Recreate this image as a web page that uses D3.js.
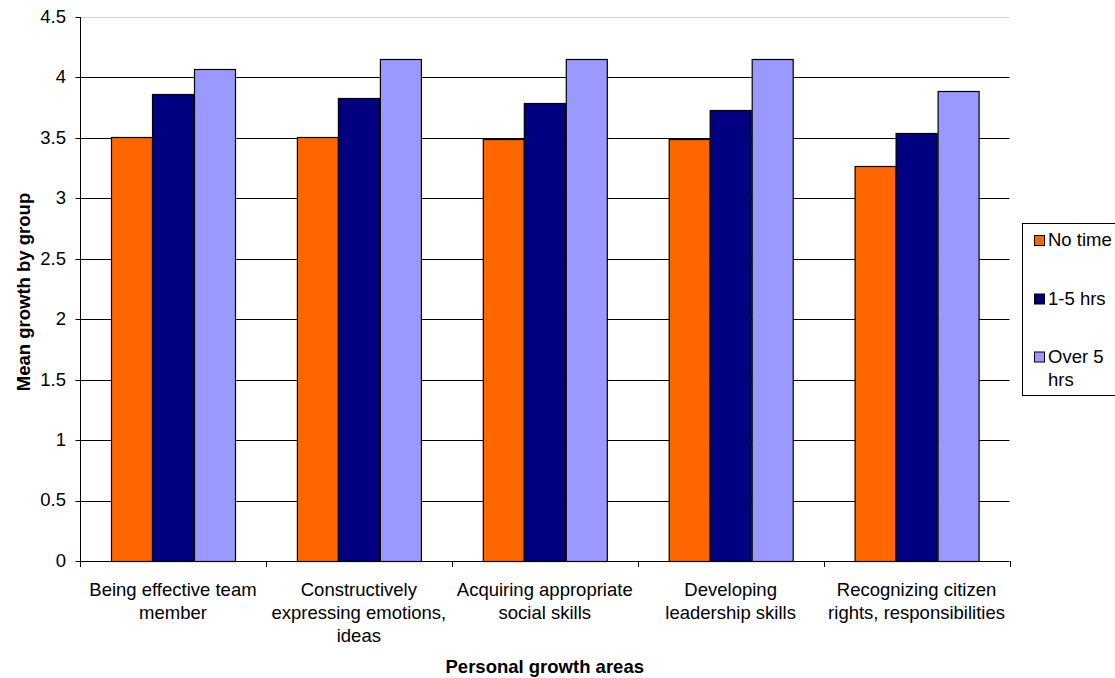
<!DOCTYPE html>
<html>
<head>
<meta charset="utf-8">
<script src="https://cdn.jsdelivr.net/npm/d3@7"></script>
<style>
  html, body { margin: 0; padding: 0; background: #fff; }
  svg { display: block; font-family: "Liberation Sans", Arial, sans-serif; }
</style>
</head>
<body>
<svg id="chart" width="1115" height="678"></svg>
<script>
// ---- data ----
const categories = [
  "Being effective team member",
  "Constructively expressing emotions, ideas",
  "Acquiring appropriate social skills",
  "Developing leadership skills",
  "Recognizing citizen rights, responsibilities"
];
const categoryLines = [
  ["Being effective team", "member"],
  ["Constructively", "expressing emotions,", "ideas"],
  ["Acquiring appropriate", "social skills"],
  ["Developing", "leadership skills"],
  ["Recognizing citizen", "rights, responsibilities"]
];
const seriesNames = ["No time", "1-5 hrs", "Over 5 hrs"];
const legendLines = [["No time"], ["1-5 hrs"], ["Over 5", "hrs"]];
const noTime   = [3.51, 3.51, 3.49, 3.49, 3.27];
const oneToFive = [3.86, 3.83, 3.79, 3.73, 3.54];
const overFive = [4.07, 4.15, 4.15, 4.15, 3.89];
const seriesValues = [noTime, oneToFive, overFive];
const seriesColors = ["#FF6600", "#000080", "#9999FF"];
const yTicks = [0, 0.5, 1, 1.5, 2, 2.5, 3, 3.5, 4, 4.5];
const yTitle = "Mean growth by group";
const xTitle = "Personal growth areas";

// ---- layout ----
const svg = d3.select("#chart");
const pL = 80, pR = 1009.5, pT = 17, pB = 561;
const fontSize = 18.5;

const x0 = d3.scaleBand().domain(categories).range([pL, pR]).padding(0);
const bw = x0.bandwidth();
const x1 = d3.scaleBand().domain(seriesNames)
  .range([bw * 0.75 / 4.5, bw * 3.75 / 4.5]).padding(0);
const y = d3.scaleLinear().domain([0, 4.5]).range([pB, pT]);

// gridlines
svg.append("g").selectAll("line")
  .data(yTicks.filter(t => t > 0))
  .join("line")
  .attr("x1", pL).attr("x2", pR)
  .attr("y1", d => Math.round(y(d)) + 0.5)
  .attr("y2", d => Math.round(y(d)) + 0.5)
  .attr("stroke", d => d === 4.5 ? "#d4d4d4" : "#000")
  .attr("stroke-width", 1);

// bars
const rows = categories.map((c, i) => ({ c, vals: seriesNames.map((s, j) => ({ s, v: seriesValues[j][i], color: seriesColors[j] })) }));
const g = svg.append("g").selectAll("g").data(rows).join("g")
  .attr("transform", d => `translate(${x0(d.c)},0)`);
g.selectAll("rect").data(d => d.vals).join("rect")
  .attr("x", d => Math.round(x1(d.s)) + 0.5)
  .attr("y", d => Math.round(y(d.v)) + 0.5)
  .attr("width", Math.round(x1.bandwidth()))
  .attr("height", d => Math.round(y(0)) - Math.round(y(d.v)))
  .attr("fill", d => d.color)
  .attr("stroke", "#000")
  .attr("stroke-width", 1.2);

// y axis
const yAxis = svg.append("g").attr("transform", `translate(${pL + 0.5},0)`);
yAxis.append("line").attr("x1", 0).attr("x2", 0).attr("y1", pT).attr("y2", pB + 0.5).attr("stroke", "#000");
yAxis.selectAll("line.tick").data(yTicks).join("line").attr("class", "tick")
  .attr("x1", -5).attr("x2", 0)
  .attr("y1", d => Math.round(y(d)) + 0.5).attr("y2", d => Math.round(y(d)) + 0.5)
  .attr("stroke", "#000");
yAxis.selectAll("text").data(yTicks).join("text")
  .attr("x", -14.5).attr("y", d => y(d)).attr("dy", "0.32em")
  .attr("text-anchor", "end").attr("font-size", fontSize).attr("fill", "#000")
  .text(d => d3.format("")(d));

// x axis
const xAxis = svg.append("g");
xAxis.append("line").attr("x1", pL).attr("x2", pR)
  .attr("y1", Math.round(y(0)) + 0.5).attr("y2", Math.round(y(0)) + 0.5).attr("stroke", "#000");
const bounds = categories.map(c => x0(c)).concat([pR]);
xAxis.selectAll("line.tick").data(bounds).join("line").attr("class", "tick")
  .attr("x1", d => Math.round(d) + 0.5).attr("x2", d => Math.round(d) + 0.5)
  .attr("y1", pB).attr("y2", pB + 6).attr("stroke", "#000");
const labels = xAxis.selectAll("text").data(categories).join("text")
  .attr("text-anchor", "middle").attr("font-size", fontSize).attr("fill", "#000");
labels.each(function (c, i) {
  const t = d3.select(this);
  categoryLines[i].forEach((ln, k) => {
    t.append("tspan").attr("x", x0(c) + bw / 2).attr("y", 595.5 + k * 23).text(ln);
  });
});

// axis titles
svg.append("text").attr("x", (pL + pR) / 2).attr("y", 673)
  .attr("text-anchor", "middle").attr("font-size", fontSize).attr("font-weight", "bold")
  .text(xTitle);
svg.append("text").attr("transform", `translate(30,292) rotate(-90)`)
  .attr("text-anchor", "middle").attr("font-size", fontSize).attr("font-weight", "bold")
  .text(yTitle);

// legend
const lg = svg.append("g");
lg.append("rect").attr("x", 1022.5).attr("y", 223.5).attr("width", 120).attr("height", 172)
  .attr("fill", "#fff").attr("stroke", "#000");
const baselines = [246, 304.5, 362.5];
seriesNames.forEach((s, i) => {
  lg.append("rect").attr("x", 1034.5).attr("y", baselines[i] - 10.5).attr("width", 10).attr("height", 10)
    .attr("fill", seriesColors[i]).attr("stroke", "#000");
  const t = lg.append("text").attr("font-size", fontSize).attr("fill", "#000");
  legendLines[i].forEach((ln, k) => {
    t.append("tspan").attr("x", 1048).attr("y", baselines[i] + k * 23.5).text(ln);
  });
});
</script>
</body>
</html>
